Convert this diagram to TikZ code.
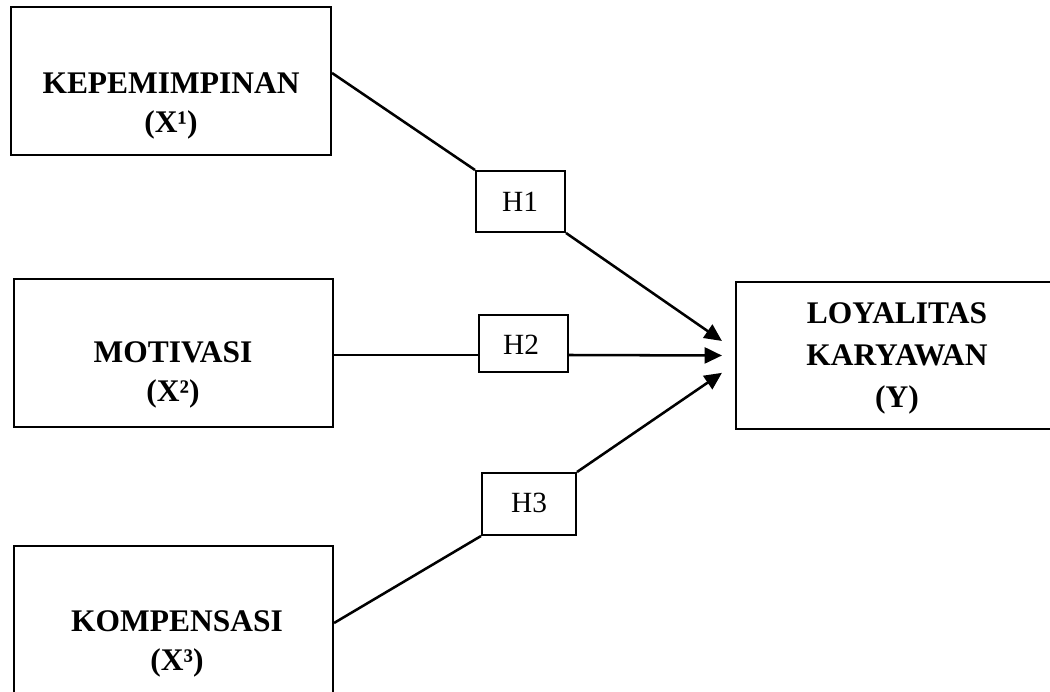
\documentclass[tikz,border=0pt]{standalone}
\usepackage{fontspec}
\setmainfont{Liberation Serif}
\usetikzlibrary{arrows.meta,fit}
\begin{document}
\begin{tikzpicture}[x=0.75pt,y=-0.75pt,
  box/.style={draw,line width=1.6pt,inner sep=0pt},
  hbox/.style={draw,line width=1.5pt,inner sep=0pt},
  lbl/.style={font=\bfseries\fontsize{23.6}{29.5}\selectfont,align=center,inner sep=0pt,anchor=north},
  hl/.style={font=\fontsize{22}{26}\selectfont,inner sep=0pt,anchor=base},
  conn/.style={line width=1.9pt},
  arr/.style={conn,-{Triangle[length=13pt,width=12pt]}}]
\useasboundingbox (0,0) rectangle (1050,692);
\clip (0,0) rectangle (1050,692);
% main boxes
\node[box,fit={(11,7) (331,155)}] (k) {};
\node[box,fit={(14,279) (333,427)}] (m) {};
\node[box,fit={(14,546) (333,720)}] (c) {};
\node[box,fit={(736,282) (1060,429)}] (y) {};
\node[lbl] (kt) at (171,72) {KEPEMIMPINAN\\(X¹)};
\node[lbl] (mt) at (173,341) {MOTIVASI\\(X²)};
\node[lbl] (ct) at (177,610) {KOMPENSASI\\(X³)};
\node[lbl,font=\bfseries\fontsize{23.6}{31.5}\selectfont] (yt) at (897,302) {LOYALITAS\\KARYAWAN\\(Y)};
% hypothesis boxes
\node[hbox,fit={(476,171) (565,232)}] (h1) {};
\node[hbox,fit={(479,315) (568,372)}] (h2) {};
\node[hbox,fit={(482,473) (576,535)}] (h3) {};
\node[hl] (h1t) at (520,211) {H1};
\node[hl] (h2t) at (521,354) {H2};
\node[hl] (h3t) at (529,512) {H3};
% connectors
\draw[conn] ([yshift=6pt]k.east) -- (h1.north west);
\draw[arr] (h1.south east) -- ([xshift=-9.75pt,yshift=10.9pt]y.west);
\draw[conn] ([yshift=-1.5pt]m.east) -- ([yshift=-1.5pt]m.east -| h2.west);
\draw[arr] ([yshift=-1.5pt]m.east -| h2.east) -- ([xshift=-9.75pt]y.west);
\draw[conn] ([yshift=7.5pt]c.east) -- (h3.south west);
\draw[arr] (h3.north east) -- ([xshift=-9.75pt,yshift=-13pt]y.west);
\end{tikzpicture}
\end{document}
